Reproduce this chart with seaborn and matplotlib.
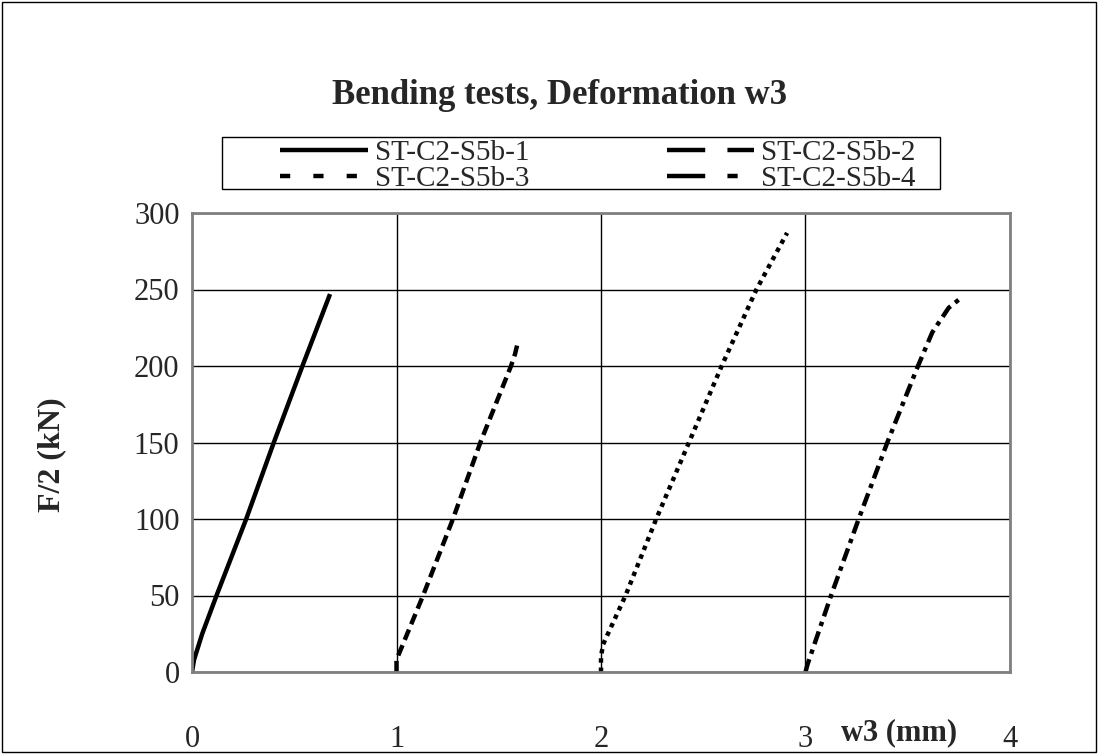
import matplotlib
matplotlib.use("Agg")
import matplotlib.pyplot as plt
import seaborn as sns
import pandas as pd
from matplotlib.patches import Rectangle

# ---- data ----
series_names = ["ST-C2-S5b-1", "ST-C2-S5b-2", "ST-C2-S5b-3", "ST-C2-S5b-4"]
w_s1 = [0.0, 0.01, 0.05, 0.12, 0.265, 0.40, 0.54, 0.675]
f_s1 = [0, 8, 25, 50, 100, 150, 200, 247]
w_s2 = [1.0, 1.0, 1.13, 1.276, 1.41, 1.56, 1.58, 1.594]
f_s2 = [0, 8, 50, 100, 150, 200, 208, 216]
w_s3 = [2.0, 2.0, 2.01, 2.12, 2.27, 2.43, 2.59, 2.76, 2.91]
f_s3 = [0, 10, 18, 50, 100, 150, 200, 250, 287]
w_s4 = [3.0, 3.01, 3.125, 3.26, 3.40, 3.55, 3.62, 3.70, 3.765]
f_s4 = [0, 5, 50, 100, 150, 200, 222, 238, 245]
x_ticks = [0, 1, 2, 3, 4]
y_ticks = [0, 50, 100, 150, 200, 250, 300]

title = "Bending tests, Deformation w3"
xlabel = "w3 (mm)"
ylabel = "F/2 (kN)"

sns.set_theme(style="white")
plt.rcParams["font.family"] = ["Liberation Serif", "DejaVu Serif"]

W, H = 1098, 754
fig = plt.figure(figsize=(W/100, H/100), dpi=100)
fig.patch.set_facecolor("white")
ax = fig.add_axes([192/W, 1-672/H, (1010-192)/W, (672-213)/H])

styles = [
    "-",
    (0, (2.5, 1.3)),
    (0, (1.0, 1.1)),
    (0, (3.0, 1.3, 1.0, 1.3)),
]
legend_styles = [
    "-",
    (0, (8.6, 5.0)),
    (0, (2.3, 5.2)),
    (0, (8.6, 5.0, 2.3, 5.0)),
]
all_w = [w_s1, w_s2, w_s3, w_s4]
all_f = [f_s1, f_s2, f_s3, f_s4]
lw = 3.2
for name, w, f, ls in zip(series_names, all_w, all_f, styles):
    df = pd.DataFrame({"w": w, "F": f})
    sns.lineplot(data=df, x="w", y="F", ax=ax, color="black", lw=lw,
                 linestyle=ls, estimator=None, sort=False, label=name,
                 solid_capstyle="butt", dash_capstyle="butt")

ax.set_xlim(0, 4)
ax.set_ylim(0, 300)
ax.set_xticks(x_ticks)
ax.set_yticks(y_ticks)
ax.set_xticklabels([str(t) for t in x_ticks], fontsize=22)
ax.set_yticklabels([str(t) for t in y_ticks], fontsize=22)
ax.tick_params(axis="x", length=0, pad=38)
ax.tick_params(axis="y", length=0, pad=9)
ax.grid(True, color="black", lw=1.0)
ax.set_axisbelow(True)
for s in ax.spines.values():
    s.set_color("#808080")
    s.set_linewidth(2)
ax.set_xlabel("")
ax.set_ylabel("")
if ax.get_legend():
    ax.get_legend().remove()

fig.text(899/W, 1-733/H, xlabel, fontsize=22, fontweight="bold",
         ha="center", va="center")
fig.text(52/W, 1-455/H, ylabel, fontsize=23, fontweight="bold",
         ha="center", va="center", rotation=90)
fig.text(560/W, 1-95/H, title, fontsize=25, fontweight="bold",
         ha="center", va="center")

# legend: row-wise order (1,2 / 3,4)
handles, labels = ax.get_legend_handles_labels()
order = [0, 2, 1, 3]
leg = fig.legend([handles[i] for i in order], [labels[i] for i in order],
                 ncol=2, loc="center", bbox_to_anchor=(598/W, 1-166/H),
                 frameon=False, fontsize=21, handlelength=3.0,
                 handletextpad=0.24, columnspacing=4.7, borderpad=0.0,
                 labelspacing=0.0)
for line, i in zip(leg.get_lines(), order):
    line.set_linestyle(legend_styles[i])
    line.set_linewidth(lw)
fig.patches.append(Rectangle((222/W, 1-189/H), (940-222)/W, (189-137)/H,
                             transform=fig.transFigure, fill=False,
                             edgecolor="black", lw=1.0))

fig.patches.append(Rectangle((0.002, 0.002), 0.996, 0.996, transform=fig.transFigure,
                             fill=False, edgecolor="black", lw=1.0))

fig.savefig("out.png", dpi=100)
